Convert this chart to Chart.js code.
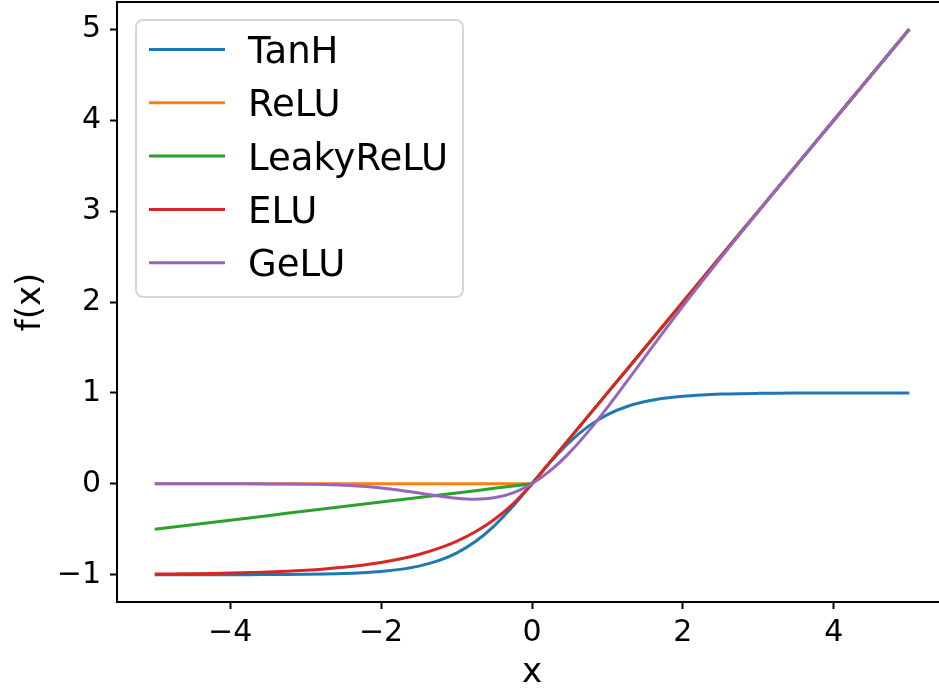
<!DOCTYPE html>
<html>
<head>
<meta charset="utf-8">
<script src="https://cdn.jsdelivr.net/npm/chart.js@4/dist/chart.umd.min.js"></script>
<style>
  html, body { margin: 0; padding: 0; background: #fff; overflow: hidden; }
  #wrap { width: 960px; height: 691px; }
</style>
</head>
<body>
<div id="wrap"><canvas id="actChart" width="960" height="691"></canvas></div>
<script>
const xValues = [-5, -4.75, -4.5, -4.25, -4, -3.75, -3.5, -3.25, -3, -2.75, -2.5, -2.25, -2, -1.75, -1.5, -1.25, -1, -0.75, -0.5, -0.25,
                 0, 0.25, 0.5, 0.75, 1, 1.25, 1.5, 1.75, 2, 2.25, 2.5, 2.75, 3, 3.25, 3.5, 3.75, 4, 4.25, 4.5, 4.75, 5];
const tanhValues = [-1.0, -1.0, -1.0, -1.0, -0.999, -0.999, -0.998, -0.997, -0.995, -0.992, -0.987, -0.978, -0.964, -0.941, -0.905, -0.848, -0.762, -0.635, -0.462, -0.245,
                    0, 0.245, 0.462, 0.635, 0.762, 0.848, 0.905, 0.941, 0.964, 0.978, 0.987, 0.992, 0.995, 0.997, 0.998, 0.999, 0.999, 1.0, 1.0, 1.0, 1.0];
const reluValues = [0, 0, 0, 0, 0, 0, 0, 0, 0, 0, 0, 0, 0, 0, 0, 0, 0, 0, 0, 0,
                    0, 0.25, 0.5, 0.75, 1, 1.25, 1.5, 1.75, 2, 2.25, 2.5, 2.75, 3, 3.25, 3.5, 3.75, 4, 4.25, 4.5, 4.75, 5];
const leakyValues = [-0.5, -0.475, -0.45, -0.425, -0.4, -0.375, -0.35, -0.325, -0.3, -0.275, -0.25, -0.225, -0.2, -0.175, -0.15, -0.125, -0.1, -0.075, -0.05, -0.025,
                     0, 0.25, 0.5, 0.75, 1, 1.25, 1.5, 1.75, 2, 2.25, 2.5, 2.75, 3, 3.25, 3.5, 3.75, 4, 4.25, 4.5, 4.75, 5];
const eluValues = [-0.993, -0.991, -0.989, -0.986, -0.982, -0.976, -0.970, -0.961, -0.950, -0.936, -0.918, -0.895, -0.865, -0.826, -0.777, -0.713, -0.632, -0.528, -0.393, -0.221,
                   0, 0.25, 0.5, 0.75, 1, 1.25, 1.5, 1.75, 2, 2.25, 2.5, 2.75, 3, 3.25, 3.5, 3.75, 4, 4.25, 4.5, 4.75, 5];
const geluValues = [0, 0, 0, 0, -0.0001, -0.0003, -0.0008, -0.0019, -0.004, -0.0082, -0.0155, -0.0275, -0.0455, -0.0701, -0.1002, -0.1321, -0.1587, -0.170, -0.1543, -0.1003,
                    0, 0.1497, 0.3457, 0.580, 0.8413, 1.1179, 1.3998, 1.6799, 1.9545, 2.2225, 2.4845, 2.7418, 2.996, 3.2481, 3.4992, 3.7497, 4.0, 4.25, 4.5, 4.75, 5];

const seriesNames = ['TanH', 'ReLU', 'LeakyReLU', 'ELU', 'GeLU'];
const seriesValues = [tanhValues, reluValues, leakyValues, eluValues, geluValues];
const seriesColors = ['#1f77b4', '#ff7f0e', '#2ca02c', '#d62728', '#9467bd'];
const xTicks = [-4, -2, 0, 2, 4];
const yTicks = [-1, 0, 1, 2, 3, 4, 5];

const fontFamily = '"DejaVu Sans", "Liberation Sans", sans-serif';
const minusFmt = v => (v < 0 ? '\u2212' + Math.abs(v) : String(v));

const datasets = seriesNames.map((name, i) => ({
    label: name,
    data: xValues.map((x, j) => ({ x: x, y: seriesValues[i][j] })),
    borderColor: seriesColors[i],
    borderWidth: 3,
    pointRadius: 0,
    fill: false,
    cubicInterpolationMode: (name === 'ReLU' || name === 'LeakyReLU') ? 'default' : 'monotone',
    tension: 0,
    order: seriesNames.length - i
}));

// matplotlib-style box around the axes plus the legend in the upper left
const framePlugin = {
    id: 'frame',
    afterDraw(chart) {
        const { ctx, chartArea: a } = chart;
        ctx.save();
        ctx.strokeStyle = '#000';
        ctx.lineWidth = 2;
        ctx.strokeRect(a.left, a.top, a.right - a.left, a.bottom - a.top);

        // legend box
        const bx = 136, by = 20, bw = 327, bh = 277, r = 7;
        ctx.beginPath();
        ctx.roundRect(bx, by, bw, bh, r);
        ctx.fillStyle = 'rgba(255,255,255,0.8)';
        ctx.fill();
        ctx.strokeStyle = '#d6d6d6';
        ctx.lineWidth = 2;
        ctx.stroke();

        ctx.font = '37px ' + fontFamily;
        ctx.textAlign = 'left';
        ctx.textBaseline = 'alphabetic';
        seriesNames.forEach((name, i) => {
            const rowY = 49.5 + i * 53.3;
            ctx.beginPath();
            ctx.moveTo(149, rowY);
            ctx.lineTo(225, rowY);
            ctx.strokeStyle = seriesColors[i];
            ctx.lineWidth = 3;
            ctx.stroke();
            ctx.fillStyle = '#000';
            ctx.fillText(name, 248, rowY + 13.5);
        });
        ctx.restore();
    }
};

new Chart(document.getElementById('actChart').getContext('2d'), {
    type: 'line',
    data: { datasets: datasets },
    options: {
        responsive: false,
        animation: false,
        devicePixelRatio: 1,
        layout: { padding: { top: 2, right: 13, left: 0, bottom: 0 } },
        plugins: { legend: { display: false }, tooltip: { enabled: false } },
        scales: {
            x: {
                type: 'linear',
                min: -5.5,
                max: 5.5,
                afterFit: s => { s.height = 89; s.paddingLeft = 0; s.paddingRight = 0; },
                afterBuildTicks: s => { s.ticks = xTicks.map(v => ({ value: v })); },
                border: { display: false },
                grid: { drawOnChartArea: false, drawTicks: true, tickLength: 7, tickColor: '#000', tickWidth: 2 },
                ticks: {
                    color: '#000',
                    padding: 6,
                    maxRotation: 0,
                    font: { family: fontFamily, size: 30 },
                    callback: v => minusFmt(v)
                },
                title: {
                    display: true,
                    text: 'x',
                    color: '#000',
                    font: { family: fontFamily, size: 34, lineHeight: 1 },
                    padding: { top: 0, bottom: 1 }
                }
            },
            y: {
                type: 'linear',
                min: -1.3,
                max: 5.3,
                afterFit: s => { s.width = 117; s.paddingTop = 0; s.paddingBottom = 0; },
                afterBuildTicks: s => { s.ticks = yTicks.map(v => ({ value: v })); },
                border: { display: false },
                grid: { drawOnChartArea: false, drawTicks: true, tickLength: 7, tickColor: '#000', tickWidth: 2 },
                ticks: {
                    color: '#000',
                    padding: 9,
                    font: { family: fontFamily, size: 30 },
                    callback: v => minusFmt(v)
                },
                title: {
                    display: true,
                    text: 'f(x)',
                    color: '#000',
                    font: { family: fontFamily, size: 34, lineHeight: 1 },
                    padding: { top: 14, bottom: 0 }
                }
            }
        }
    },
    plugins: [framePlugin]
});
</script>
</body>
</html>
